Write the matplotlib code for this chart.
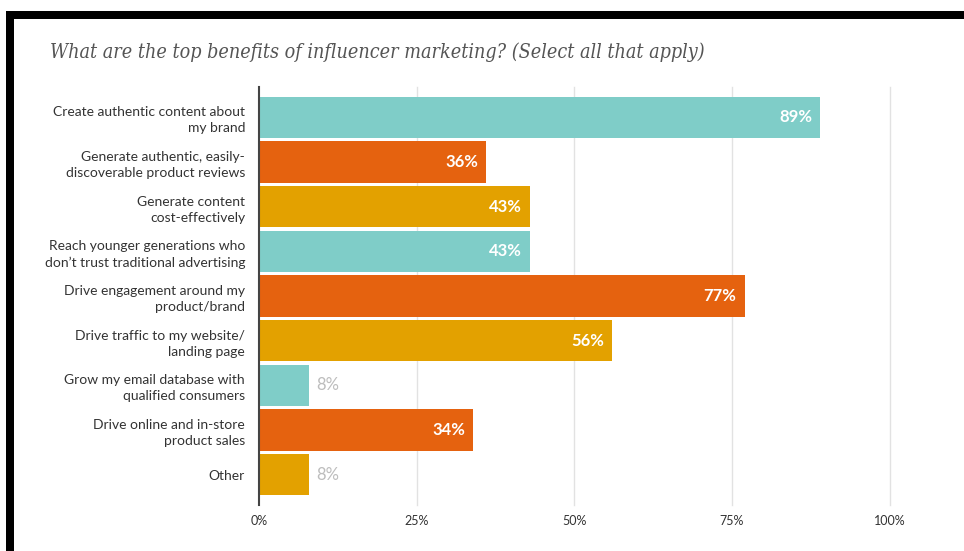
import matplotlib.pyplot as plt
from matplotlib.patches import Rectangle

# survey answers, top to bottom
categories = [
    "Create authentic content about\nmy brand",
    "Generate authentic, easily-\ndiscoverable product reviews",
    "Generate content\ncost-effectively",
    "Reach younger generations who\ndon\u2019t trust traditional advertising",
    "Drive engagement around my\nproduct/brand",
    "Drive traffic to my website/\nlanding page",
    "Grow my email database with\nqualified consumers",
    "Drive online and in-store\nproduct sales",
    "Other",
]
values = [89, 36, 43, 43, 77, 56, 8, 34, 8]
xticks = [0, 25, 50, 75, 100]
xtick_labels = ["0%", "25%", "50%", "75%", "100%"]

TEAL = "#7FCDC8"
ORANGE = "#E5620F"
GOLD = "#E3A100"
bar_colors = [TEAL, ORANGE, GOLD] * 3

W, H = 964, 551
fig = plt.figure(figsize=(W / 100, H / 100), dpi=100)
fig.patch.set_facecolor("white")

# black frame on top and left edges
fig.patches.append(Rectangle((6 / W, 0), 8 / W, 1 - 11 / H, transform=fig.transFigure,
                             facecolor="black", edgecolor="none", zorder=10))
fig.patches.append(Rectangle((6 / W, 1 - 19 / H), 1 - 6 / W, 8 / H, transform=fig.transFigure,
                             facecolor="black", edgecolor="none", zorder=10))

fig.text(50 / W, 1 - 52 / H,
         "What are the top benefits of influencer marketing? (Select all that apply)",
         fontsize=14.1, style="italic", family="DejaVu Serif", color="#555555",
         va="center", ha="left", fontstretch="condensed")

x0, x1 = 259, 896
y0, y1 = 87, 505
ax = fig.add_axes([x0 / W, 1 - y1 / H, (x1 - x0) / W, (y1 - y0) / H])

pos = list(range(len(categories)))
ax.barh(pos, values, height=0.92, color=bar_colors, zorder=2)
ax.set_ylim(8.68, -0.68)
ax.set_xlim(0, 101)

for i, v in enumerate(values):
    if v >= 20:
        ax.text(v - 1.3, i, f"{v}%", color="white", fontweight="bold", fontsize=12,
                family="Lato", ha="right", va="center", zorder=3)
    else:
        ax.text(v + 1.0, i, f"{v}%", color="#BDBDBD", fontsize=12,
                family="Lato", ha="left", va="center", zorder=3)

for t in xticks[1:]:
    ax.axvline(t, color="#E2E2E2", lw=1, zorder=1, clip_on=False)

ax.set_xticks(xticks)
ax.set_xticklabels(xtick_labels, fontsize=9, family="Lato", color="#333333")
ax.set_yticks(pos)
ax.set_yticklabels(categories, fontsize=10, family="Lato", color="#333333",
                   linespacing=1.4)
ax.tick_params(axis="both", length=0)
ax.tick_params(axis="x", pad=7)
ax.tick_params(axis="y", pad=10)

for side in ["top", "right", "bottom"]:
    ax.spines[side].set_visible(False)
ax.spines["left"].set_color("#444444")
ax.spines["left"].set_linewidth(1.5)

fig.savefig("out.png", dpi=100, facecolor="white")
